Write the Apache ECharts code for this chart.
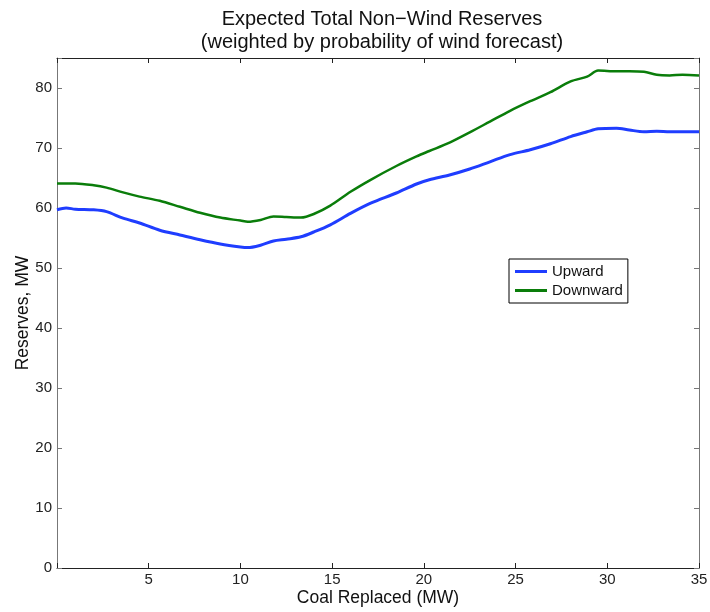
<!DOCTYPE html>
<html>
<head>
<meta charset="utf-8">
<script src="https://cdn.jsdelivr.net/npm/echarts@6/dist/echarts.min.js"></script>
<style>
  html, body { margin: 0; padding: 0; background: #fff; }
  #chart { width: 710px; height: 612px; }
</style>
</head>
<body>
<div id="chart"></div>
<script>
// Coal replaced (MW) at each sample
const coalMW = [0, 0.5, 1, 2, 2.7, 3.6, 4.5, 5.6, 6.7, 7.8, 8.9, 10, 10.4, 11.1, 11.8, 12.5, 13.3, 14, 14.9, 16, 17.1, 18.5, 19.6, 20.3, 21.4, 22.5, 23.6, 24.7, 25.8, 26.9, 28, 28.9, 29.5, 30.5, 31.2, 32, 32.7, 33.4, 34.1, 35];

// Expected reserves (MW)
const upward = [59.7, 60.0, 59.8, 59.7, 59.4, 58.3, 57.5, 56.3, 55.5, 54.7, 54.0, 53.5, 53.4, 53.8, 54.5, 54.8, 55.2, 56.0, 57.2, 59.1, 60.8, 62.5, 64.0, 64.7, 65.5, 66.5, 67.7, 68.9, 69.7, 70.7, 71.9, 72.7, 73.2, 73.3, 73.0, 72.7, 72.8, 72.7, 72.7, 72.7];
const downward = [64.1, 64.1, 64.1, 63.8, 63.4, 62.6, 61.9, 61.2, 60.2, 59.2, 58.4, 57.9, 57.7, 58.0, 58.6, 58.5, 58.4, 59.0, 60.4, 62.7, 64.7, 67.0, 68.6, 69.5, 70.9, 72.6, 74.4, 76.2, 77.8, 79.3, 81.1, 81.9, 82.9, 82.8, 82.8, 82.7, 82.2, 82.1, 82.2, 82.1];

const seriesNames = ['Upward', 'Downward'];
const titleLines = ['Expected Total Non\u2212Wind Reserves', '(weighted by probability of wind forecast)'];

const pairs = ys => coalMW.map((x, i) => [x, ys[i]]);

const font = 'Liberation Sans, Arial, sans-serif';

const frameAxis = color => ({
  axisLine: { show: true, onZero: false, lineStyle: { color: color, width: 1 } },
  axisTick: { show: true, inside: true, length: 5, lineStyle: { color: color } },
  splitLine: { show: false }
});

const chart = echarts.init(document.getElementById('chart'), null, { renderer: 'canvas' });
chart.setOption({
  animation: false,
  backgroundColor: '#fff',
  title: {
    text: titleLines.join('\n'),
    left: 377,
    top: 3,
    textAlign: 'center',
    textStyle: { fontFamily: font, fontSize: 20, fontWeight: 'normal', color: '#111', lineHeight: 23 }
  },
  grid: { left: 57, right: 11, top: 58, bottom: 44, containLabel: false, outerBoundsMode: 'none' },
  legend: {
    orient: 'vertical',
    left: 509,
    top: 259,
    padding: [5, 5, 5, 6],
    itemGap: 4,
    itemWidth: 32,
    itemHeight: 3,
    icon: 'rect',
    borderColor: '#000',
    borderWidth: 1,
    backgroundColor: '#fff',
    textStyle: { fontFamily: font, fontSize: 15, color: '#111' },
    data: seriesNames
  },
  xAxis: [
    Object.assign({}, frameAxis('#222'), {
      type: 'value', min: 0, max: 35, interval: 5,
      name: 'Coal Replaced (MW)', nameLocation: 'middle', nameGap: 21, nameMoveOverlap: false,
      nameTextStyle: { fontFamily: font, fontSize: 17.5, color: '#111', verticalAlign: 'top' },
      axisLabel: { fontFamily: font, fontSize: 15, color: '#222', margin: 4,
        formatter: v => (v === 0 ? '' : String(v)) }
    }),
    Object.assign({}, frameAxis('#222'), {
      type: 'value', min: 0, max: 35, interval: 5, position: 'top',
      axisLabel: { show: false }
    })
  ],
  yAxis: [
    Object.assign({}, frameAxis('#777'), {
      type: 'value', min: 0, max: 85, interval: 10,
      name: 'Reserves, MW', nameLocation: 'middle', nameGap: 25, nameMoveOverlap: false,
      nameTextStyle: { fontFamily: font, fontSize: 17.5, color: '#111', verticalAlign: 'bottom' },
      axisLabel: { fontFamily: font, fontSize: 15, color: '#222', margin: 5,
        formatter: v => (v % 10 === 0 ? String(v) : '') }
    }),
    Object.assign({}, frameAxis('#777'), {
      type: 'value', min: 0, max: 85, interval: 10, position: 'right',
      axisLabel: { show: false }
    })
  ],
  series: [
    {
      name: seriesNames[0], type: 'line', data: pairs(upward),
      showSymbol: false, symbol: 'none', smooth: 0.3,
      color: '#1f3dff',
      lineStyle: { color: '#1f3dff', width: 3 },
      z: 3
    },
    {
      name: seriesNames[1], type: 'line', data: pairs(downward),
      showSymbol: false, symbol: 'none', smooth: 0.3,
      color: '#0a7d0a',
      lineStyle: { color: '#0a7d0a', width: 2.5 },
      z: 2
    }
  ]
});
</script>
</body>
</html>
